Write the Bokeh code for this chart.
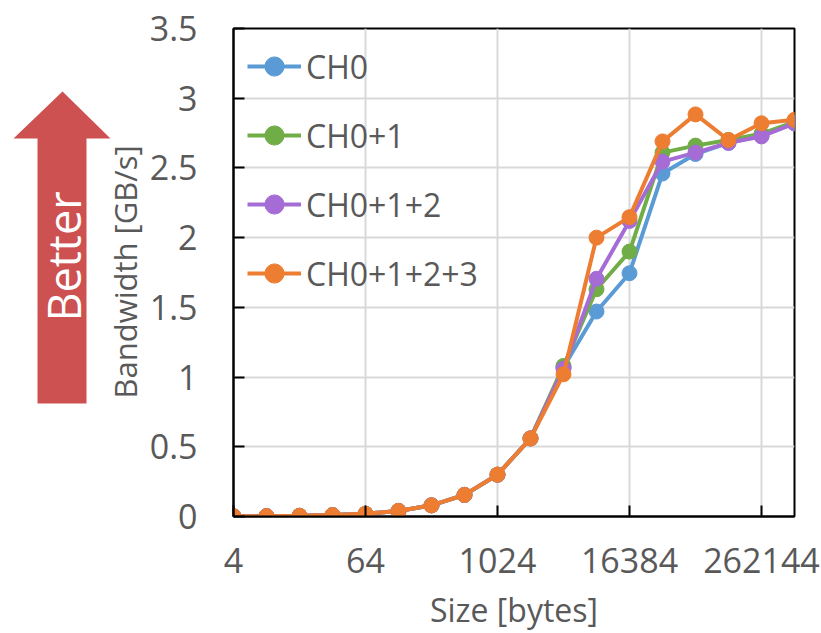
import math
from bokeh.plotting import figure
from bokeh.layouts import row
from bokeh.models import (Range1d, FixedTicker, NumeralTickFormatter, Legend, LegendItem)
from bokeh.core.properties import value
from bokeh.embed import file_html
from bokeh.resources import INLINE

sizes = [4, 8, 16, 32, 64, 128, 256, 512, 1024, 2048, 4096, 8192, 16384,
         32768, 65536, 131072, 262144, 524288]
ch0 = [0.0012, 0.0025, 0.005, 0.01, 0.02, 0.04, 0.08, 0.155, 0.30, 0.56,
       1.07, 1.47, 1.745, 2.46, 2.60, 2.68, 2.73, 2.82]
ch01 = [0.0012, 0.0025, 0.005, 0.01, 0.02, 0.04, 0.08, 0.155, 0.30, 0.56,
        1.08, 1.63, 1.90, 2.61, 2.66, 2.70, 2.745, 2.83]
ch012 = [0.0012, 0.0025, 0.005, 0.01, 0.02, 0.04, 0.08, 0.155, 0.30, 0.56,
         1.06, 1.705, 2.12, 2.545, 2.61, 2.68, 2.726, 2.82]
ch0123 = [0.0012, 0.0025, 0.005, 0.01, 0.02, 0.04, 0.08, 0.155, 0.30, 0.56,
          1.02, 2.00, 2.147, 2.69, 2.884, 2.70, 2.82, 2.845]
series_names = ["CH0", "CH0+1", "CH0+1+2", "CH0+1+2+3"]
series_colors = ["#5B9BD5", "#70AD47", "#A66CD6", "#ED7D31"]
x_ticks = [4, 64, 1024, 16384, 262144]
y_ticks = [0, 0.5, 1, 1.5, 2, 2.5, 3, 3.5]
y_title = "Bandwidth [GB/s]"
x_title = "Size [bytes]"
arrow_text = "Better"

FONT = "Open Sans"
TXT = "#595959"
H = 633
TOP = 28
BOTTOM = 117
LEFT_W = 146
FRAME_H = H - TOP - BOTTOM          # 488 px, same as the main chart frame
FRAME_BOTTOM = H - BOTTOM           # 516

# ---------- left panel: "Better" arrow and the y-axis title ----------
side = figure(width=LEFT_W, height=H, x_range=Range1d(0, LEFT_W), y_range=Range1d(0, FRAME_H),
              output_backend="svg", toolbar_location=None,
              x_axis_location=None, y_axis_location=None,
              min_border_left=0, min_border_right=0, min_border_top=TOP,
              min_border_bottom=BOTTOM)
side.grid.visible = False
side.outline_line_color = None
side.background_fill_color = "white"
side.border_fill_color = "white"
arrow_x = [62, 110, 86, 86, 37, 37, 13]
arrow_y_px = [91, 138, 138, 403, 403, 138, 138]
side.patch(arrow_x, [FRAME_BOTTOM - v for v in arrow_y_px],
           fill_color="#CD5151", line_color=None)
side.text(x=[63], y=[FRAME_BOTTOM - 256], text=[arrow_text], angle=math.pi / 2,
          text_align="center", text_baseline="middle",
          text_font=value(FONT), text_font_size="45px", text_color="white")
side.text(x=[124], y=[FRAME_BOTTOM - 271.5], text=[y_title], angle=math.pi / 2,
          text_align="center", text_baseline="middle",
          text_font=value(FONT), text_font_size="31px", text_color=TXT)

# ---------- main chart ----------
p = figure(width=821 - LEFT_W, height=H, x_axis_type="log",
           x_range=Range1d(4, 524288), y_range=Range1d(0, 3.5),
           output_backend="svg", toolbar_location=None,
           min_border_left=230 - LEFT_W, min_border_right=27, min_border_top=TOP,
           min_border_bottom=BOTTOM)
p.background_fill_color = "white"
p.border_fill_color = "white"
p.outline_line_color = "black"
p.outline_line_width = 2

p.xaxis.ticker = FixedTicker(ticks=x_ticks, minor_ticks=[])
p.yaxis.ticker = FixedTicker(ticks=y_ticks, minor_ticks=[])
p.xaxis.formatter = NumeralTickFormatter(format="0")
p.yaxis.formatter = NumeralTickFormatter(format="0.[0]")
for ax in (p.xaxis, p.yaxis):
    ax.axis_line_color = "black"
    ax.axis_line_width = 2
    ax.major_tick_in = 11
    ax.major_tick_out = 0
    ax.major_tick_line_color = "black"
    ax.major_tick_line_width = 2
    ax.minor_tick_line_color = None
    ax.major_label_text_font = FONT
    ax.major_label_text_font_size = "34px"
    ax.major_label_text_color = TXT
    ax.axis_label_text_font = FONT
    ax.axis_label_text_font_size = "32px"
    ax.axis_label_text_color = TXT
    ax.axis_label_text_font_style = "normal"
p.xaxis.axis_label = x_title
p.xaxis.axis_label_text_line_height = 1.0
p.xaxis.major_label_standoff = 31
p.xaxis.axis_label_standoff = 12
p.yaxis.major_label_standoff = 36

p.xgrid.ticker = FixedTicker(ticks=x_ticks, minor_ticks=[])
p.ygrid.ticker = FixedTicker(ticks=y_ticks, minor_ticks=[])
for g in (p.xgrid, p.ygrid):
    g.grid_line_color = "#D9D9D9"
    g.grid_line_width = 2

items = []
for name, ys, col in zip(series_names, [ch0, ch01, ch012, ch0123], series_colors):
    r1 = p.line(sizes, ys, line_color=col, line_width=4)
    r2 = p.scatter(sizes, ys, size=15, fill_color=col, line_color=col)
    items.append(LegendItem(label=name, renderers=[r1, r2]))

legend = Legend(items=items, location="top_left")
legend.background_fill_alpha = 0
legend.border_line_alpha = 0
legend.margin = 14
legend.padding = 0
legend.glyph_width = 54
legend.glyph_height = 48
legend.label_height = 48
legend.spacing = 21
legend.label_standoff = 5
legend.label_text_font = FONT
legend.label_text_font_size = "32px"
legend.label_text_color = TXT
p.add_layout(legend)

layout = row(side, p)
open("out.html", "w").write(file_html(layout, INLINE))
